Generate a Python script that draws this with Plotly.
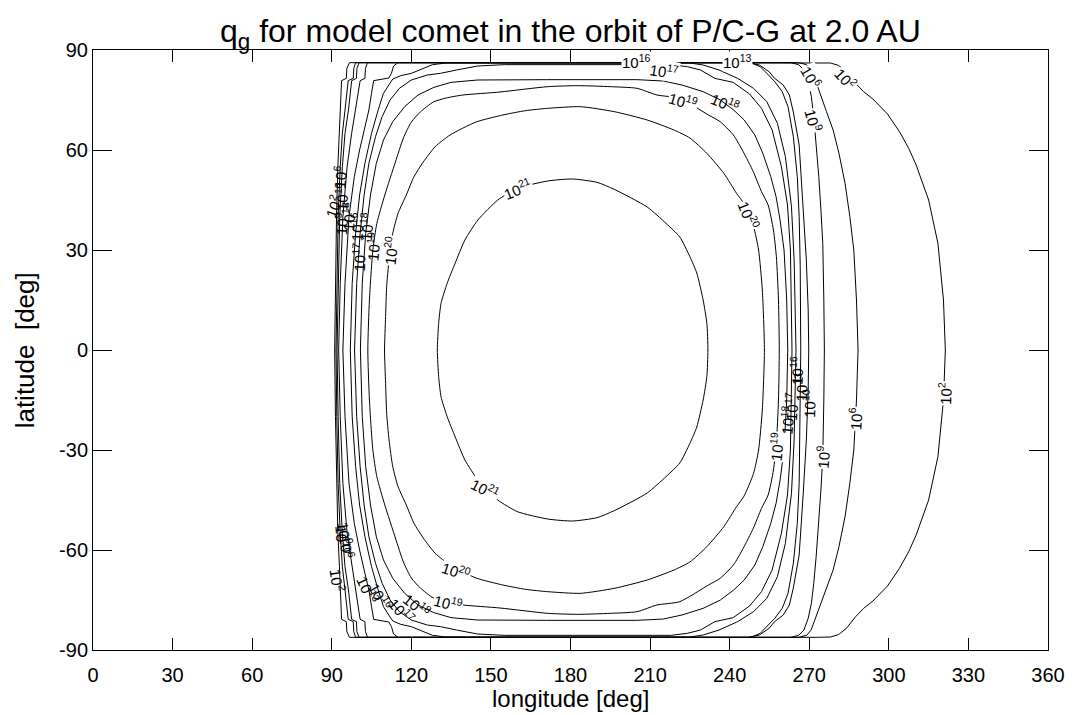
import plotly.graph_objects as go

# ---------------- data: contour outlines (upper half, lon/lat) --------------
# each list runs from the left side at the equator, over the top, to the right side at the equator;
# the field is symmetric about the equator, so the lower half is the mirror image.
C_1E2 = [(91.1,0),(91.4,20),(91.8,40),(92.3,55),(92.9,65),(93.4,72),(93.7,80.8),(95.5,81.5),(95.7,84.5),(96.7,86.2),
         (272.6,86.2),(278,86.1),(281,85.4),(284,83.5),(287.5,80),(290.5,77.5),(294,75.3),(299.5,70.8),(304,65.5),
         (307.5,60.5),(310.3,55.5),(315,45),(318.5,32),(320.6,15),(321.3,0)]
C_1E6 = [(91.6,0),(91.9,20),(92.4,40),(93.2,55),(94,65),(95,72),(96.2,80.8),(98.1,81.5),(98.3,84.5),(99,86.2),
         (266,86.2),(269,85.6),(270.7,84),(272.3,81),(274,77),(276.5,71.5),(279,66),(281.2,59),(283.5,50),
         (285.3,40),(286.8,30),(287.8,15),(288.4,0)]
C_1E9 = [(92,0),(92.4,20),(93,40),(94,55),(95,65),(96.3,72),(97.5,80.8),(99.3,81.5),(99.5,84.5),(100.3,86.2),
         (263,86.2),(266,85.6),(268,84),(269.6,80.5),(270.8,76),(271.7,70),(272.6,62),(273.6,52),(274.4,42),
         (275.1,32),(275.5,15),(275.7,0)]
C_1E10 = [(92.6,0),(93.2,20),(94.2,40),(95.8,55),(97.5,65),(99,72),(100.7,80.8),(102.5,81.5),(102.7,84.5),(103.5,86.2),
          (247,86.2),(251.2,85.5),(255,83.4),(256.8,81.6),(260.2,79.5),(262.5,76.5),(264,71.4),(266.2,61.5),
          (267.7,43.5),(268.9,27),(269.6,12),(269.8,0)]
C_1E13 = [(94.2,0),(95,20),(96.5,40),(98.5,52),(100.5,60),(102.5,67),(104,72),(105,77),(105.8,80.8),(111.5,81.6),
          (112.5,83),(113.3,85.2),(115,86.2),(248,86.2),(251.5,85),(254,83),(257,80.5),(259.8,77.5),(262,73),
          (264,64),(265.5,52),(266.2,40),(266.6,25),(266.8,0)]
C_1E16 = [(97,0),(97.7,20),(99,35),(100.5,46.5),(102.5,56),(105,65),(107.5,72),(109.5,77),(111.5,79.5),(113,81.3),
          (116,82.3),(120,83),(124,84.3),(128,85.6),(133,86.1),(225,86.1),(230,85.5),(236,84),(243,81.5),(249,78.5),
          (254,74.5),(258,68),(261,58),(263.3,43),(264.3,27),(265,0)]
C_1E17 = [(98.6,0),(99.4,20),(100.7,35),(102.2,46.5),(104,56),(106.5,64),(109,70),(112,75),(115.5,78.5),(120,81),
          (126,82.5),(131,83),(137,84),(145,85.2),(155,85.6),(218,85.6),(224,85),(229,84),(234.4,81.5),(241.3,80.3),
          (247.5,76.8),(252,72.5),(256,66),(259.5,55),(261.8,43.5),(262.9,30),(263.5,0)]
C_1E18 = [(100.8,0),(101.5,20),(102.8,35),(104.6,46.5),(106.8,56),(109.5,63),(113,68.5),(117.5,73),(122.5,76.5),
          (128.5,78.8),(135,80.3),(145,81),(171,81.1),(205,81.1),(215,80.7),(222,79.5),(230,77.5),(236.5,75),
          (241.5,72),(245.5,69),(249.5,64.5),(252.5,59),(255.5,52),(257.5,46),(259,39),(260.5,30),(261.5,15),(261.9,0)]
C_1E19 = [(103.6,0),(104.2,15),(105.5,30),(107,38),(110,46.5),(114,56.4),(117,63.6),(120,68.4),(123.4,71.4),
          (128.3,74.4),(133.1,75.6),(139.5,76.5),(153.4,77.4),(171.4,79),(182.6,79.3),(195,79),(205.1,78.5),
          (212.6,76.5),(221.2,75.5),(232,70.5),(236.4,68.5),(241.4,64.5),(245.1,59.5),(248.9,53.5),(252,47.5),
          (254.5,43.5),(256.5,36),(257.6,28),(258.4,15),(258.7,0)]
C_1E20 = [(109.9,0),(110.3,10),(110.7,19),(111.6,27),(113,35),(115,41),(118.1,46.5),(121,52),(124.5,56.4),(129,61),
          (134.6,64.5),(144.4,68.4),(154.5,70.5),(163,71.8),(171.4,72.5),(183.7,73),(196.5,71.5),(208.9,69),(219,66),
          (225,63.6),(231.4,59),(237.8,53),(242.6,47),(245.3,44),(249,37),(250.9,30),(252.3,18),(253.1,0)]
C_1E21 = [(129.8,0),(130.3,8),(131.2,14),(133.5,20),(136.5,26),(140.2,33),(145.1,39),(152.6,45),(160,48.5),
          (171.4,50.7),(180.7,51.3),(190,50.3),(196.5,48.2),(208.9,42.9),(216,38),(221.2,33.9),(225,28),
          (227.6,23.1),(230,15),(231.4,8),(231.8,0)]

LEVELS = [("2", C_1E2, "linear"), ("6", C_1E6, "linear"), ("9", C_1E9, "linear"), ("10", C_1E10, "linear"),
          ("13", C_1E13, "linear"), ("16", C_1E16, "linear"), ("17", C_1E17, "linear"), ("18", C_1E18, "linear"),
          ("19", C_1E19, "spline"), ("20", C_1E20, "spline"), ("21", C_1E21, "spline")]

# contour labels: exponent, lon, lat, text angle, break the line (white box)
LABELS = [
    ("21", 160, 48.6, -22, True), ("21", 148, -41.5, 27, True),
    ("20", 111.9, 30, -84, True), ("20", 247.5, 40.5, 68, True), ("20", 137, -66, 18, True),
    ("19", 222.5, 75.0, 16, True), ("19", 105.6, 31, -84, False), ("19", 134, -75.6, 14, True), ("19", 257.6, -29, -84, True),
    ("18", 238.5, 74.2, 22, False), ("18", 103, 37, -86, False), ("18", 122.5, -76.5, 38, False), ("18", 261.4, -21, -84, False),
    ("16", 205, 86.6, 0, True), ("17", 215.5, 84.0, 9, True),
    ("17", 100.2, 28, -87, False), ("17", 116.5, -78, 48, False), ("17", 263.2, -17, -86, False),
    ("16", 99.3, 37, -87, False), ("16", 108.5, -74, 60, False), ("16", 264.9, -6, -88, False),
    ("13", 243, 86.6, 0, True), ("13", 96.2, 40, -87, False), ("13", 104, -72, 65, False), ("13", 266.8, -11, -88, False),
    ("10", 93.6, 46, -87, False), ("10", 269.7, -16, -88, False), ("10", 94.5, -57, 85, False),
    ("9", 93.4, 38, -87, False), ("9", 271.9, 69, 75, True), ("9", 275.1, -32, -86, True), ("9", 95.2, -55, 82, False),
    ("6", 93, 52, -85, False), ("6", 270.7, 82, 60, True), ("6", 287.2, -20.5, -87, True), ("6", 95.8, -59, 82, False),
    ("2", 90.5, 43, -70, False), ("2", 284, 81.6, 48, True), ("2", 321, -13, -88, True), ("2", 92.5, -69, 82, False),
]

X_TICKS = [0, 30, 60, 90, 120, 150, 180, 210, 240, 270, 300, 330, 360]
Y_TICKS = [-90, -60, -30, 0, 30, 60, 90]
Y_TICK_TEXT = ["-90", "-60", "-30", "0", "30", "60", "90"]

TITLE = "q<sub>g</sub> for model comet in the orbit of P/C-G at 2.0 AU"
X_TITLE = "longitude [deg]"
Y_TITLE = "latitude  [deg]"

FONT = "Liberation Sans, Arial, Helvetica, sans-serif"

# plot area in page pixels: x 93..1053, y 50..650
PX_L, PX_R, PX_T, PX_B = 93, 1053, 50, 650


def px2paper(px, py):
    return (px - PX_L) / (PX_R - PX_L), (PX_B - py) / (PX_B - PX_T)


fig = go.Figure()
for name, upper, shape in LEVELS:
    lower = [(lo, -la) for lo, la in reversed(upper[:-1])]
    pts = upper + lower
    fig.add_trace(go.Scatter(
        x=[p[0] for p in pts], y=[p[1] for p in pts], mode="lines",
        line=dict(color="black", width=1, shape=shape, smoothing=0.6),
        hoverinfo="skip", showlegend=False, name="10^" + name))

for exp, lon, lat, ang, brk in LABELS:
    fig.add_annotation(x=lon, y=lat, xref="x", yref="y", text="10<sup>%s</sup>" % exp,
                       showarrow=False, textangle=ang, font=dict(family=FONT, size=15, color="black"),
                       bgcolor="white" if brk else "rgba(0,0,0,0)", borderpad=0)

tx, ty = px2paper(573, 33)
fig.add_annotation(x=tx, y=ty, xref="paper", yref="paper", text=TITLE, showarrow=False,
                   xanchor="center", yanchor="middle", font=dict(family=FONT, size=32, color="black"))
tx, ty = px2paper(573, 698)
fig.add_annotation(x=tx, y=ty, xref="paper", yref="paper", text=X_TITLE, showarrow=False,
                   xanchor="center", yanchor="middle", font=dict(family=FONT, size=24, color="black"))
tx, ty = px2paper(25, 350)
fig.add_annotation(x=tx, y=ty, xref="paper", yref="paper", text=Y_TITLE, showarrow=False, textangle=-90,
                   xanchor="center", yanchor="middle", font=dict(family=FONT, size=26, color="black"))

axis_common = dict(showline=True, linecolor="black", linewidth=1, mirror="ticks", ticks="inside",
                   tickcolor="black", tickwidth=1, showgrid=False, zeroline=False,
                   tickfont=dict(family=FONT, size=20, color="black"))
fig.update_xaxes(range=[0, 360], tickvals=X_TICKS, ticklen=12, ticklabelstandoff=7, **axis_common)
fig.update_yaxes(range=[-90, 90], tickvals=Y_TICKS, ticktext=Y_TICK_TEXT, ticklen=19, **axis_common)

fig.update_layout(width=1077, height=715, margin=dict(l=PX_L, r=1077 - PX_R, t=PX_T, b=715 - PX_B, pad=0),
                  paper_bgcolor="white", plot_bgcolor="white", font=dict(family=FONT, color="black"))
fig.write_html("out.html")
